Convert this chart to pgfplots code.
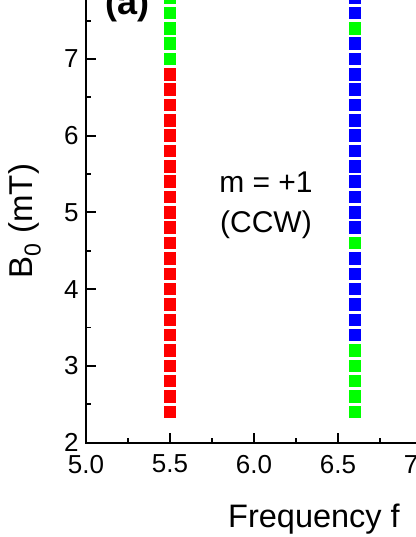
\documentclass[border=0pt]{standalone}
\usepackage{pgfplots}
\pgfplotsset{compat=1.18}
\usepackage{fontspec}
\setmainfont{Liberation Sans}
\definecolor{pred}{RGB}{255,0,0}
\definecolor{pgreen}{RGB}{0,255,0}
\definecolor{pblue}{RGB}{0,0,255}
\begin{document}
\begin{tikzpicture}
\begin{axis}[
  at={(0pt,0pt)}, anchor=south west,
  scale only axis, width=504pt, height=460.2pt,
  xmin=5, xmax=8, ymin=2, ymax=8,
  axis line style={line width=2pt},
  every tick/.style={black, line width=1.8pt},
  tick align=inside,
  major tick length=10pt, minor tick length=5pt,
  xtick={5,5.5,6,6.5,7,7.5,8}, minor x tick num=1,
  ytick={2,3,4,5,6,7,8}, minor y tick num=1,
  /pgf/number format/assume math mode=true,
  ticklabel style={font=\fontsize{26}{30}\selectfont},
  xticklabel style={/pgf/number format/.cd, fixed, fixed zerofill, precision=1, /tikz/.cd, yshift=-9pt},
  yticklabel style={xshift=-4pt},
  xlabel={Frequency f\hspace{0.5em}(GHz)},
  xlabel style={at={(axis description cs:0,0)}, anchor=base west, inner sep=0pt, xshift=142pt, yshift=-84.5pt, font=\fontsize{32.5}{40}\selectfont},
  ylabel={B\textsubscript{0} (mT)},
  ylabel style={at={(axis description cs:-0.1052,0.4813)}, anchor=base, inner sep=0pt, font=\fontsize{33}{40}\selectfont},
]
\addplot[only marks, mark=square*, mark size=5.75pt, color=pred, mark options={line width=0pt}] coordinates {
(5.5,2.4)(5.5,2.6)(5.5,2.8)(5.5,3.0)(5.5,3.2)(5.5,3.4)(5.5,3.6)(5.5,3.8)(5.5,4.0)(5.5,4.2)(5.5,4.4)(5.5,4.6)(5.5,4.8)(5.5,5.0)(5.5,5.2)(5.5,5.4)(5.5,5.6)(5.5,5.8)(5.5,6.0)(5.5,6.2)(5.5,6.4)(5.5,6.6)(5.5,6.8)
};
\addplot[only marks, mark=square*, mark size=5.75pt, color=pgreen, mark options={line width=0pt}] coordinates {
(5.5,7.0)(5.5,7.2)(5.5,7.4)(5.5,7.6)(5.5,7.8)
(6.6,2.4)(6.6,2.6)(6.6,2.8)(6.6,3.0)(6.6,3.2)(6.6,4.6)(6.6,7.4)
};
\addplot[only marks, mark=square*, mark size=5.75pt, color=pblue, mark options={line width=0pt}] coordinates {
(6.6,3.4)(6.6,3.6)(6.6,3.8)(6.6,4.0)(6.6,4.2)(6.6,4.4)(6.6,4.8)(6.6,5.0)(6.6,5.2)(6.6,5.4)(6.6,5.6)(6.6,5.8)(6.6,6.0)(6.6,6.2)(6.6,6.4)(6.6,6.6)(6.6,6.8)(6.6,7.0)(6.6,7.2)(6.6,7.6)(6.6,7.8)
};
\node[anchor=base, inner sep=0pt, font=\fontsize{30}{36}\selectfont] at (rel axis cs:0.3571,0.5443) {m = +1};
\node[anchor=base, inner sep=0pt, font=\fontsize{30}{36}\selectfont] at (rel axis cs:0.3571,0.4574) {(CCW)};
\node[anchor=base west, inner sep=0pt, font=\fontsize{36}{40}\selectfont\bfseries] at (rel axis cs:0.0377,0.930) {(a)};
\end{axis}
\pgfresetboundingbox
\path[use as bounding box] (-86pt,-94.5pt) rectangle (329pt,442.5pt);
\end{tikzpicture}
\end{document}
